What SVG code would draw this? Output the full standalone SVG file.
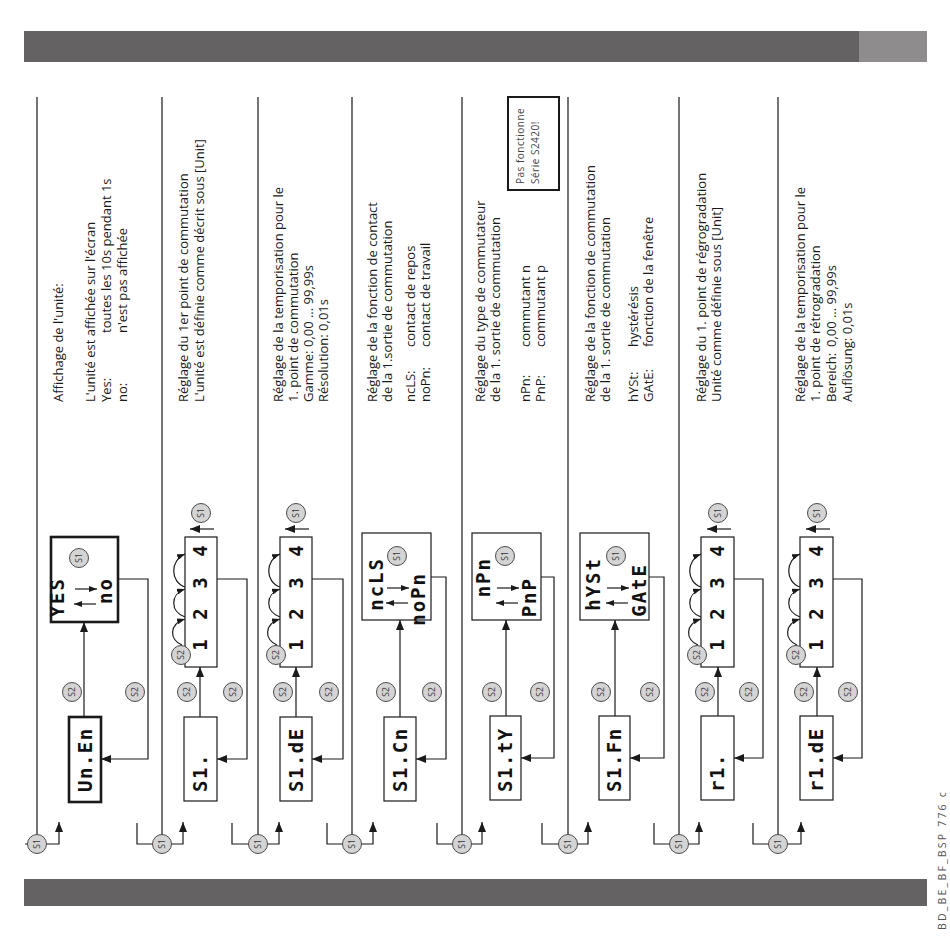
<svg xmlns="http://www.w3.org/2000/svg" width="950" height="938" viewBox="0 0 950 938">
<style>
.ln{stroke:#1a1a1a;stroke-width:1.2;fill:none}
.bx{fill:#fff;stroke:#1a1a1a;stroke-width:1.2}
.bb{fill:#fff;stroke:#1a1a1a;stroke-width:2.6}
.ci{fill:#d4d4d4;stroke:#3a3a3a;stroke-width:0.9}
.ct{font-family:"Open Sans","DejaVu Sans",sans-serif;font-size:8.5px;fill:#333;text-anchor:middle}
.t{font-family:"Open Sans","Noto Sans",sans-serif;font-size:13px;fill:#1a1a1a}
.sg{font-family:"DejaVu Sans Mono",monospace;font-weight:bold;font-size:19px;fill:#111;letter-spacing:1.5px}
.sm{font-family:"DejaVu Sans Mono",monospace;font-weight:bold;font-size:19px;fill:#111;text-anchor:middle}
.se{font-family:"DejaVu Sans Mono",monospace;font-weight:bold;font-size:19px;fill:#111;text-anchor:end;letter-spacing:2px}
.sn{font-family:"Open Sans",sans-serif;font-size:10px;fill:#444;letter-spacing:0.5px}
</style>
<defs>
<marker id="ah" viewBox="0 0 10 8" refX="10" refY="4" markerWidth="10" markerHeight="8" markerUnits="userSpaceOnUse" orient="auto"><path d="M0,0L10,4L0,8z" fill="#1a1a1a"/></marker>
<marker id="as" viewBox="0 0 8 6" refX="8" refY="3" markerWidth="8" markerHeight="6" markerUnits="userSpaceOnUse" orient="auto"><path d="M0,0L8,3L0,6z" fill="#1a1a1a"/></marker>
<g id="c1"><circle class="ci" r="9.5"/><text class="ct" transform="rotate(-90)" y="3">S1</text></g>
<g id="c2"><circle class="ci" r="9.5"/><text class="ct" transform="rotate(-90)" y="3">S2</text></g>
<g id="arcs">
<path class="ln" marker-end="url(#as)" d="M-3,-10C-16,-15 -16,-31 0,-36"/>
<path class="ln" marker-end="url(#as)" d="M0,-38C-15,-43 -15,-61 0,-66"/>
<path class="ln" marker-end="url(#as)" d="M0,-68C-15,-73 -15,-95 0,-101"/>
</g>
<g id="swap">
<path class="ln" marker-end="url(#as)" d="M0,0H22"/>
<path class="ln" marker-end="url(#as)" d="M21,15H-1"/>
</g>
</defs>

<g id="bars">
<rect x="24" y="31" width="835" height="31" fill="#646262"/>
<rect x="859" y="31" width="68" height="31" fill="#8e8c8c"/>
<rect x="24" y="879" width="903" height="27" fill="#646262"/>
<text transform="translate(946,930) rotate(-90)" style="font-family:'Open Sans',sans-serif;font-size:10.5px;fill:#555;letter-spacing:2.2px">BD_BE_BF_BSP 776 c</text>
</g>

<g id="connectors">
<path class="ln" d="M37,97V834M162,97V834M258,97V834M352,97V834M462,97V834M568,97V834M679,97V834M778,97V834"/>
<path class="ln" d="M25,844H27.5M137,823V844H152.5M232,823V844H248.5M327,823V844H342.5M437,823V844H452.5M542,823V844H558.5M654,823V844H669.5M753,823V844H768.5"/>
<path class="ln" marker-end="url(#ah)" d="M46.5,844H59V822"/>
<path class="ln" marker-end="url(#ah)" d="M171.5,844H183V822"/>
<path class="ln" marker-end="url(#ah)" d="M267.5,844H279V822"/>
<path class="ln" marker-end="url(#ah)" d="M361.5,844H373V822"/>
<path class="ln" marker-end="url(#ah)" d="M471.5,844H482V822"/>
<path class="ln" marker-end="url(#ah)" d="M577.5,844H588V822"/>
<path class="ln" marker-end="url(#ah)" d="M688.5,844H699V822"/>
<path class="ln" marker-end="url(#ah)" d="M787.5,844H801V822"/>
<path class="ln" marker-end="url(#ah)" d="M84,717V622"/>
<path class="ln" marker-end="url(#ah)" d="M200,717V667"/>
<path class="ln" marker-end="url(#ah)" d="M296,717V667"/>
<path class="ln" marker-end="url(#ah)" d="M400,717V620"/>
<path class="ln" marker-end="url(#ah)" d="M506,716V620"/>
<path class="ln" marker-end="url(#ah)" d="M615,716V620"/>
<path class="ln" marker-end="url(#ah)" d="M718,716V667"/>
<path class="ln" marker-end="url(#ah)" d="M817,716V667"/>
<path class="ln" marker-end="url(#ah)" d="M118,579H148V759H101"/>
<path class="ln" marker-end="url(#ah)" d="M217,579H247V759H217"/>
<path class="ln" marker-end="url(#ah)" d="M312,579H343V759H312"/>
<path class="ln" marker-end="url(#ah)" d="M431,577H446V759H416"/>
<path class="ln" marker-end="url(#ah)" d="M541,577H554V758H521"/>
<path class="ln" marker-end="url(#ah)" d="M649,577H664V758H630"/>
<path class="ln" marker-end="url(#ah)" d="M734,579H763V758H734"/>
<path class="ln" marker-end="url(#ah)" d="M833,579H862V758H833"/>
<path class="ln" marker-end="url(#ah)" d="M214,529H190"/>
<path class="ln" marker-end="url(#ah)" d="M309,529H285"/>
<path class="ln" marker-end="url(#ah)" d="M731,529H707"/>
<path class="ln" marker-end="url(#ah)" d="M830,529H806"/>
<use href="#arcs" x="185" y="655"/>
<use href="#arcs" x="280" y="655"/>
<use href="#arcs" x="701" y="655"/>
<use href="#arcs" x="800" y="655"/>
</g>

<g id="sec1">
<use href="#c1" x="37" y="844"/>
<rect class="bb" x="69" y="717" width="32" height="85"/>
<text class="sg" transform="translate(92,792) rotate(-90)">Un.En</text>
<rect class="bb" x="51" y="537" width="67" height="85"/>
<text class="se" transform="translate(64,577) rotate(-90)">YES</text>
<text class="se" transform="translate(112,577) rotate(-90)">no</text>
<use href="#swap" x="75" y="589"/>
<use href="#c1" x="79" y="558"/>
<use href="#c2" x="72" y="692"/>
<use href="#c2" x="135" y="692"/>
<text class="t" transform="translate(63,402) rotate(-90)">Affichage de l'unité:</text>
<text class="t" transform="translate(95,402) rotate(-90)">L'unité est affichée sur l'écran</text>
<text class="t" transform="translate(111,402) rotate(-90)">Yes:</text>
<text class="t" transform="translate(111,333) rotate(-90)">toutes les 10s pendant 1s</text>
<text class="t" transform="translate(127,402) rotate(-90)">no:</text>
<text class="t" transform="translate(127,333) rotate(-90)">n'est pas affichée</text>
</g>

<g id="sec2">
<use href="#c1" x="162" y="844"/>
<rect class="bx" x="184" y="717" width="33" height="84"/>
<text class="sg" transform="translate(207,792) rotate(-90)">S1.</text>
<rect class="bx" x="185" y="537" width="32" height="130"/>
<text class="sm" transform="translate(207,645) rotate(-90)">1</text>
<text class="sm" transform="translate(207,614) rotate(-90)">2</text>
<text class="sm" transform="translate(207,583) rotate(-90)">3</text>
<text class="sm" transform="translate(207,551) rotate(-90)">4</text>
<use href="#c2" x="181" y="655"/>
<use href="#c1" x="201" y="513"/>
<use href="#c2" x="187" y="692"/>
<use href="#c2" x="233" y="692"/>
<text class="t" transform="translate(188,402) rotate(-90)">Réglage du 1er point de commutation</text>
<text class="t" transform="translate(204,402) rotate(-90)">L'unité est définie comme décrit sous [Unit]</text>
</g>

<g id="sec3">
<use href="#c1" x="258" y="844"/>
<rect class="bx" x="280" y="717" width="32" height="84"/>
<text class="sg" transform="translate(303,792) rotate(-90)">S1.dE</text>
<rect class="bx" x="280" y="537" width="32" height="130"/>
<text class="sm" transform="translate(303,645) rotate(-90)">1</text>
<text class="sm" transform="translate(303,614) rotate(-90)">2</text>
<text class="sm" transform="translate(303,583) rotate(-90)">3</text>
<text class="sm" transform="translate(303,551) rotate(-90)">4</text>
<use href="#c2" x="276" y="655"/>
<use href="#c1" x="296" y="513"/>
<use href="#c2" x="283" y="692"/>
<use href="#c2" x="329" y="692"/>
<text class="t" transform="translate(283,402) rotate(-90)">Réglage de la temporisation pour le</text>
<text class="t" transform="translate(298,402) rotate(-90)">1. point de commutation</text>
<text class="t" transform="translate(313,402) rotate(-90)">Gamme:</text>
<text class="t" transform="translate(313,347) rotate(-90)">0,00 … 99,99s</text>
<text class="t" transform="translate(328,402) rotate(-90)">Résolution:  0,01s</text>
</g>

<g id="sec4">
<use href="#c1" x="352" y="844"/>
<rect class="bx" x="384" y="717" width="32" height="84"/>
<text class="sg" transform="translate(407,792) rotate(-90)">S1.Cn</text>
<rect class="bx" x="362" y="533" width="69" height="87"/>
<text class="se" transform="translate(383,557) rotate(-90)">ncLS</text>
<text class="se" transform="translate(425,572) rotate(-90)">noPn</text>
<use href="#swap" x="387" y="588"/>
<use href="#c1" x="397" y="556"/>
<use href="#c2" x="386" y="692"/>
<use href="#c2" x="432" y="692"/>
<text class="t" transform="translate(377,402) rotate(-90)">Réglage de la fonction de contact</text>
<text class="t" transform="translate(392,402) rotate(-90)">de la 1.sortie de commutation</text>
<text class="t" transform="translate(415,402) rotate(-90)">ncLS:</text>
<text class="t" transform="translate(415,347) rotate(-90)">contact de repos</text>
<text class="t" transform="translate(430,402) rotate(-90)">noPn:</text>
<text class="t" transform="translate(430,347) rotate(-90)">contact de travail</text>
</g>

<g id="sec5">
<use href="#c1" x="462" y="844"/>
<rect class="bx" x="490" y="716" width="31" height="84"/>
<text class="sg" transform="translate(512,792) rotate(-90)">S1.tY</text>
<rect class="bx" x="472" y="533" width="69" height="87"/>
<text class="se" transform="translate(490,557) rotate(-90)">nPn</text>
<text class="se" transform="translate(536,577) rotate(-90)">PnP</text>
<use href="#swap" x="497" y="588"/>
<use href="#c1" x="505" y="556"/>
<use href="#c2" x="492" y="692"/>
<use href="#c2" x="540" y="692"/>
<text class="t" transform="translate(485,402) rotate(-90)">Réglage du type de commutateur</text>
<text class="t" transform="translate(500,402) rotate(-90)">de la 1. sortie de commutation</text>
<text class="t" transform="translate(530,402) rotate(-90)">nPn:</text>
<text class="t" transform="translate(530,347) rotate(-90)">commutant n</text>
<text class="t" transform="translate(545,402) rotate(-90)">PnP:</text>
<text class="t" transform="translate(545,347) rotate(-90)">commutant p</text>
<rect x="508" y="97" width="51" height="93" fill="#fff" stroke="#1a1a1a" stroke-width="2"/>
<text class="sn" transform="translate(524,184) rotate(-90)">Pas fonctionne</text>
<text class="sn" transform="translate(539,184) rotate(-90)">Série S2420!</text>
</g>

<g id="sec6">
<use href="#c1" x="568" y="844"/>
<rect class="bx" x="599" y="716" width="31" height="84"/>
<text class="sg" transform="translate(621,792) rotate(-90)">S1.Fn</text>
<rect class="bx" x="580" y="533" width="69" height="87"/>
<text class="se" transform="translate(600,557) rotate(-90)">hYSt</text>
<text class="se" transform="translate(646,563) rotate(-90)">GAtE</text>
<use href="#swap" x="607" y="588"/>
<use href="#c1" x="616" y="556"/>
<use href="#c2" x="601" y="692"/>
<use href="#c2" x="650" y="692"/>
<text class="t" transform="translate(595,402) rotate(-90)">Réglage de la fonction de commutation</text>
<text class="t" transform="translate(610,402) rotate(-90)">de la 1. sortie de commutation</text>
<text class="t" transform="translate(638,402) rotate(-90)">hYSt:</text>
<text class="t" transform="translate(638,347) rotate(-90)">hystérésis</text>
<text class="t" transform="translate(653,402) rotate(-90)">GAtE:</text>
<text class="t" transform="translate(653,347) rotate(-90)">fonction de la fenêtre</text>
</g>

<g id="sec7">
<use href="#c1" x="679" y="844"/>
<rect class="bx" x="701" y="716" width="33" height="84"/>
<text class="sg" transform="translate(724,792) rotate(-90)">r1.</text>
<rect class="bx" x="701" y="537" width="33" height="130"/>
<text class="sm" transform="translate(724,645) rotate(-90)">1</text>
<text class="sm" transform="translate(724,614) rotate(-90)">2</text>
<text class="sm" transform="translate(724,583) rotate(-90)">3</text>
<text class="sm" transform="translate(724,551) rotate(-90)">4</text>
<use href="#c2" x="697" y="655"/>
<use href="#c1" x="718" y="513"/>
<use href="#c2" x="705" y="692"/>
<use href="#c2" x="749" y="692"/>
<text class="t" transform="translate(706,402) rotate(-90)">Réglage du 1. point de régrogradation</text>
<text class="t" transform="translate(721,402) rotate(-90)">Unité comme définie sous [Unit]</text>
</g>

<g id="sec8">
<use href="#c1" x="778" y="844"/>
<rect class="bx" x="800" y="716" width="33" height="84"/>
<text class="sg" transform="translate(823,792) rotate(-90)">r1.dE</text>
<rect class="bx" x="800" y="537" width="33" height="130"/>
<text class="sm" transform="translate(823,645) rotate(-90)">1</text>
<text class="sm" transform="translate(823,614) rotate(-90)">2</text>
<text class="sm" transform="translate(823,583) rotate(-90)">3</text>
<text class="sm" transform="translate(823,551) rotate(-90)">4</text>
<use href="#c2" x="796" y="655"/>
<use href="#c1" x="817" y="513"/>
<use href="#c2" x="804" y="692"/>
<use href="#c2" x="848" y="692"/>
<text class="t" transform="translate(805,402) rotate(-90)">Réglage de la temporisation pour le</text>
<text class="t" transform="translate(820,402) rotate(-90)">1. point de rétrogradation</text>
<text class="t" transform="translate(836,402) rotate(-90)">Bereich:</text>
<text class="t" transform="translate(836,347) rotate(-90)">0,00 … 99,99s</text>
<text class="t" transform="translate(852,402) rotate(-90)">Auflösung: 0,01s</text>
</g>
</svg>
